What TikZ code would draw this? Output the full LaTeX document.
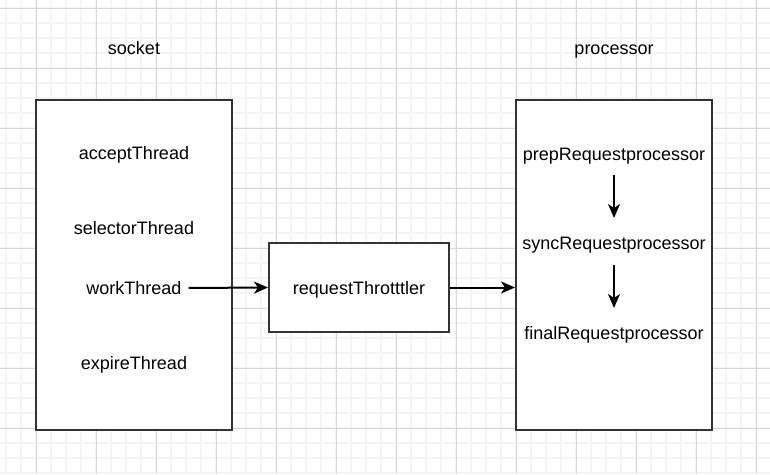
\documentclass[tikz,border=0pt]{standalone}
\usepackage{fontspec}
\setmainfont{Liberation Sans}
\usetikzlibrary{arrows.meta}
\definecolor{gridminor}{HTML}{F5F5F5}
\definecolor{gridmajor}{HTML}{D8D8D8}
\definecolor{boxline}{HTML}{333333}
\tikzset{
    groupbox/.style={
        rectangle,
        draw=boxline, % 边框颜色
        fill=white,
        line width=2pt,
        minimum width=196pt,
        minimum height=330pt,
        inner sep=0
    },
    throttlebox/.style={
        rectangle,
        draw=boxline,
        fill=white,
        line width=2pt,
        minimum width=180pt,
        minimum height=89pt,
        inner sep=0,
        text height=17pt,
        text depth=4pt,
        font=\fontsize{18}{21}\selectfont
    },
    caption/.style={
        inner sep=4pt,
        text height=17pt,
        text depth=4pt,
        font=\fontsize{18}{21}\selectfont
    },
    flow/.style={
        draw=black,
        line width=2pt,
        -{Stealth[length=14pt,width=12pt,inset=4pt]}
    }
}

\begin{document}
\begin{tikzpicture}[x=1pt, y=-1pt]
            % 背景网格
            \fill[white] (0,0) rectangle (770,474);
            \useasboundingbox (0,0) rectangle (770,474);
            \foreach \gx in {6,21,...,770} {
                \draw[gridminor, line width=1.5pt] (\gx,0) -- (\gx,474);
            }
            \foreach \gy in {8,23,...,474} {
                \draw[gridminor, line width=1.5pt] (0,\gy) -- (770,\gy);
            }
            \foreach \gx in {36,96,...,770} {
                \draw[gridmajor, line width=1pt] (\gx,0) -- (\gx,474);
            }
            \foreach \gy in {8,68,...,474} {
                \draw[gridmajor, line width=1pt] (0,\gy) -- (770,\gy);
            }
            % 左侧 socket
            \node[caption] (sockettitle) at (134,48) {socket};
            \node[groupbox] (socket) at (134,265) {};
            \node[caption] (accept) at (134,153) {acceptThread};
            \node[caption] (selector) at (134,228) {selectorThread};
            \node[caption] (work) at (134,288) {workThread};
            \node[caption] (expire) at (134,363) {expireThread};
            % 中间限流
            \node[throttlebox] (throttler) at (359,287.5) {requestThrotttler};
            % 右侧 processor
            \node[caption] (processortitle) at (614,48) {processor};
            \node[groupbox] (processor) at (614,265) {};
            \node[caption] (prep) at (614,154) {prepRequestprocessor};
            \node[caption] (sync) at (614,243) {syncRequestprocessor};
            \node[caption] (final) at (614,333) {finalRequestprocessor};
            % 连线
            \draw[flow, shorten <=3pt] (work.east) -- (throttler.west);
            \draw[flow] (throttler.east) -- (throttler.east -| processor.west);
            \draw[flow, shorten <=21pt, shorten >=25pt] (prep.center) -- (sync.center);
            \draw[flow, shorten <=22pt, shorten >=25pt] (sync.center) -- (final.center);
\end{tikzpicture}
\end{document}
